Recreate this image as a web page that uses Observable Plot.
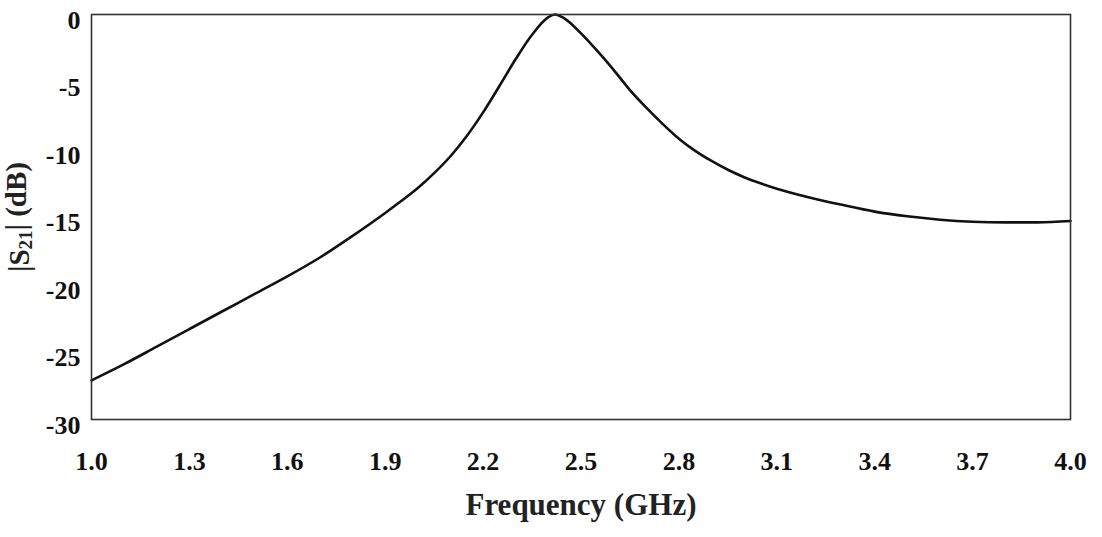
<!DOCTYPE html>
<html>
<head>
<meta charset="utf-8">
<script src="https://cdn.jsdelivr.net/npm/d3@7"></script>
<script src="https://cdn.jsdelivr.net/npm/@observablehq/plot@0.6"></script>
<style>
  html, body { margin: 0; padding: 0; background: #fff; }
  #chart { width: 1102px; height: 537px; }
</style>
</head>
<body>
<div id="chart"></div>
<script>
const freq = [1.00, 1.10, 1.20, 1.30, 1.40, 1.50, 1.60, 1.70, 1.80, 1.90, 1.95, 2.00, 2.05, 2.10, 2.15, 2.20, 2.25, 2.30, 2.35, 2.40, 2.42, 2.45, 2.50, 2.55, 2.60, 2.65, 2.70, 2.75, 2.80, 2.85, 2.90, 2.95, 3.00, 3.05, 3.10, 3.20, 3.30, 3.40, 3.50, 3.60, 3.70, 3.80, 3.90, 4.00];
const s21 = [-27.1, -25.9, -24.6, -23.3, -22.0, -20.7, -19.4, -18.0, -16.4, -14.7, -13.8, -12.85, -11.75, -10.5, -9.0, -7.25, -5.3, -3.3, -1.5, -0.2, 0.0, -0.3, -1.4, -2.7, -4.1, -5.6, -6.9, -8.1, -9.2, -10.1, -10.85, -11.5, -12.05, -12.5, -12.9, -13.55, -14.1, -14.6, -14.95, -15.2, -15.35, -15.4, -15.4, -15.3];
const xTicks = [1.0, 1.3, 1.6, 1.9, 2.2, 2.5, 2.8, 3.1, 3.4, 3.7, 4.0];
const yTicks = [0, -5, -10, -15, -20, -25, -30];
const xTitle = "Frequency (GHz)";
const yTitle = ["|S", "21", "| (dB)"];

const data = freq.map((f, i) => ({f, v: s21[i]}));

const font = "'Liberation Serif', 'Times New Roman', serif";

const chart = Plot.plot({
  width: 1102,
  height: 537,
  marginLeft: 91,
  marginRight: 32,
  marginTop: 14,
  marginBottom: 118,
  style: { fontFamily: font, fontWeight: "bold", fontSize: "26px", color: "#111", background: "#fff" },
  x: { domain: [1, 4], label: null },
  y: { domain: [-30, 0], label: null },
  marks: [
    Plot.axisX({ ticks: xTicks, tickFormat: d => d.toFixed(1), tickSize: 0, tickPadding: 32, fontSize: 26, fontWeight: "bold", label: null }),
    Plot.axisY({ ticks: yTicks, tickFormat: d => (d < 0 ? "-" + Math.abs(d) : String(d)), tickSize: 0, tickPadding: 11, fontSize: 26, fontWeight: "bold", dy: 6, label: null }),
    Plot.line(data, { x: "f", y: "v", curve: "monotone-x", stroke: "#111", strokeWidth: 2.6 }),
    Plot.frame({ stroke: "#333", strokeWidth: 1.6 }),
    Plot.text([xTitle], { frameAnchor: "bottom", dy: 95, fontSize: 31, fontWeight: "bold", fill: "#222" })
  ]
});

document.getElementById("chart").appendChild(chart);

// y-axis title with subscript
const svg = d3.select(chart);
const t = svg.append("text")
  .attr("transform", "translate(22,217) rotate(-90)")
  .attr("text-anchor", "middle")
  .attr("dominant-baseline", "middle")
  .style("font-family", font)
  .style("font-weight", "bold")
  .style("font-size", "29px")
  .attr("fill", "#222");
t.append("tspan").text(yTitle[0]);
t.append("tspan").attr("dy", "0.3em").style("font-size", "19px").text(yTitle[1]);
t.append("tspan").attr("dy", "-0.3em").text(yTitle[2]);
</script>
</body>
</html>
